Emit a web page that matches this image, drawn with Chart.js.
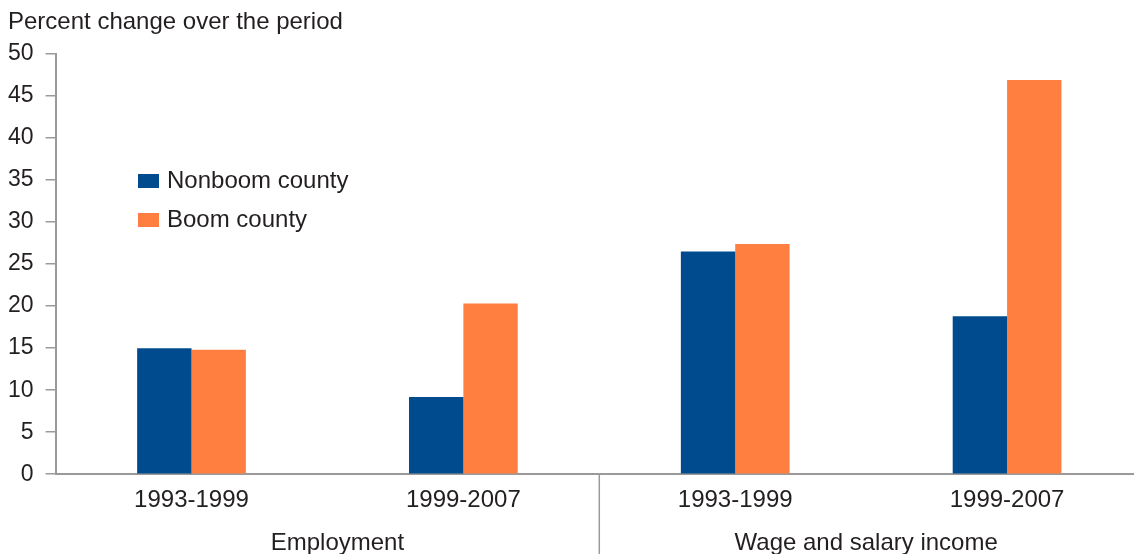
<!DOCTYPE html>
<html lang="en">
<head>
  <meta charset="UTF-8" />
  <title>Percent change over the period</title>
  <script src="https://cdn.jsdelivr.net/npm/chart.js"></script>
  <style>
    html, body {
      margin: 0;
      padding: 0;
      background: #fff;
      overflow: hidden;
    }
    #wrap {
      width: 1143px;
      height: 554px;
      position: relative;
    }
  </style>
</head>
<body>
  <div id="wrap"><canvas id="chart"></canvas></div>

  <script>
    const periods = ['1993-1999', '1999-2007', '1993-1999', '1999-2007'];
    const groups = ['Employment', 'Wage and salary income'];
    const nonboom = [15.0, 9.2, 26.5, 18.8];
    const boom = [14.8, 20.3, 27.4, 46.9];
    const yTicks = [0, 5, 10, 15, 20, 25, 30, 35, 40, 45, 50];
    const yTitle = 'Percent change over the period';

    const FONT = 'Arial, "Liberation Sans", sans-serif';
    const TEXT = '#231f20';
    const AXIS = '#9a9a9a';

    // axis title, legend and the second row of category labels
    const extras = {
      id: 'extras',
      afterDraw(chart) {
        const ctx = chart.ctx;
        const x = chart.scales.x;
        const area = chart.chartArea;
        ctx.save();

        // group separator
        const sep = (x.getPixelForValue(1) + x.getPixelForValue(2)) / 2;
        ctx.strokeStyle = AXIS;
        ctx.lineWidth = 1.5;
        ctx.beginPath();
        ctx.moveTo(sep, area.bottom);
        ctx.lineTo(sep, chart.height);
        ctx.stroke();

        ctx.fillStyle = TEXT;
        ctx.font = '24px ' + FONT;
        ctx.textBaseline = 'middle';

        // y title, top left
        ctx.textAlign = 'left';
        ctx.fillText(yTitle, 8, 22);

        // group labels
        ctx.textAlign = 'center';
        const nudge = [10, -5];
        groups.forEach((g, i) => {
          const cx = (x.getPixelForValue(i * 2) + x.getPixelForValue(i * 2 + 1)) / 2;
          ctx.fillText(g, cx + nudge[i], 543);
        });

        // legend
        ctx.textAlign = 'left';
        chart.data.datasets.forEach((ds, i) => {
          const ly = 181 + i * 39;
          ctx.fillStyle = ds.backgroundColor;
          ctx.fillRect(138, ly - 7, 21, 14);
          ctx.fillStyle = TEXT;
          ctx.fillText(ds.label, 167, ly);
        });
        ctx.restore();
      }
    };

    new Chart(document.getElementById('chart'), {
      type: 'bar',
      data: {
        labels: periods,
        datasets: [
          { label: 'Nonboom county', data: nonboom, backgroundColor: '#004b8d', borderWidth: 0 },
          { label: 'Boom county', data: boom, backgroundColor: '#ff7f40', borderWidth: 0 }
        ]
      },
      options: {
        responsive: true,
        maintainAspectRatio: false,
        animation: false,
        categoryPercentage: 0.4,
        barPercentage: 1,
        layout: { padding: { left: -4, right: 0, top: 54, bottom: 35 } },
        plugins: {
          legend: { display: false },
          tooltip: { enabled: false },
          title: { display: false }
        },
        scales: {
          y: {
            min: 0,
            max: 50,
            afterBuildTicks: axis => { axis.ticks = yTicks.map(v => ({ value: v })); },
            border: { color: AXIS, width: 2 },
            grid: { drawOnChartArea: false, color: AXIS, lineWidth: 1.5, tickLength: 10 },
            ticks: { color: TEXT, padding: 12, font: { family: FONT, size: 23 } }
          },
          x: {
            border: { color: AXIS, width: 2 },
            grid: { display: false },
            ticks: { color: TEXT, padding: 4, font: { family: FONT, size: 24 } }
          }
        }
      },
      plugins: [extras]
    });
  </script>
</body>
</html>
